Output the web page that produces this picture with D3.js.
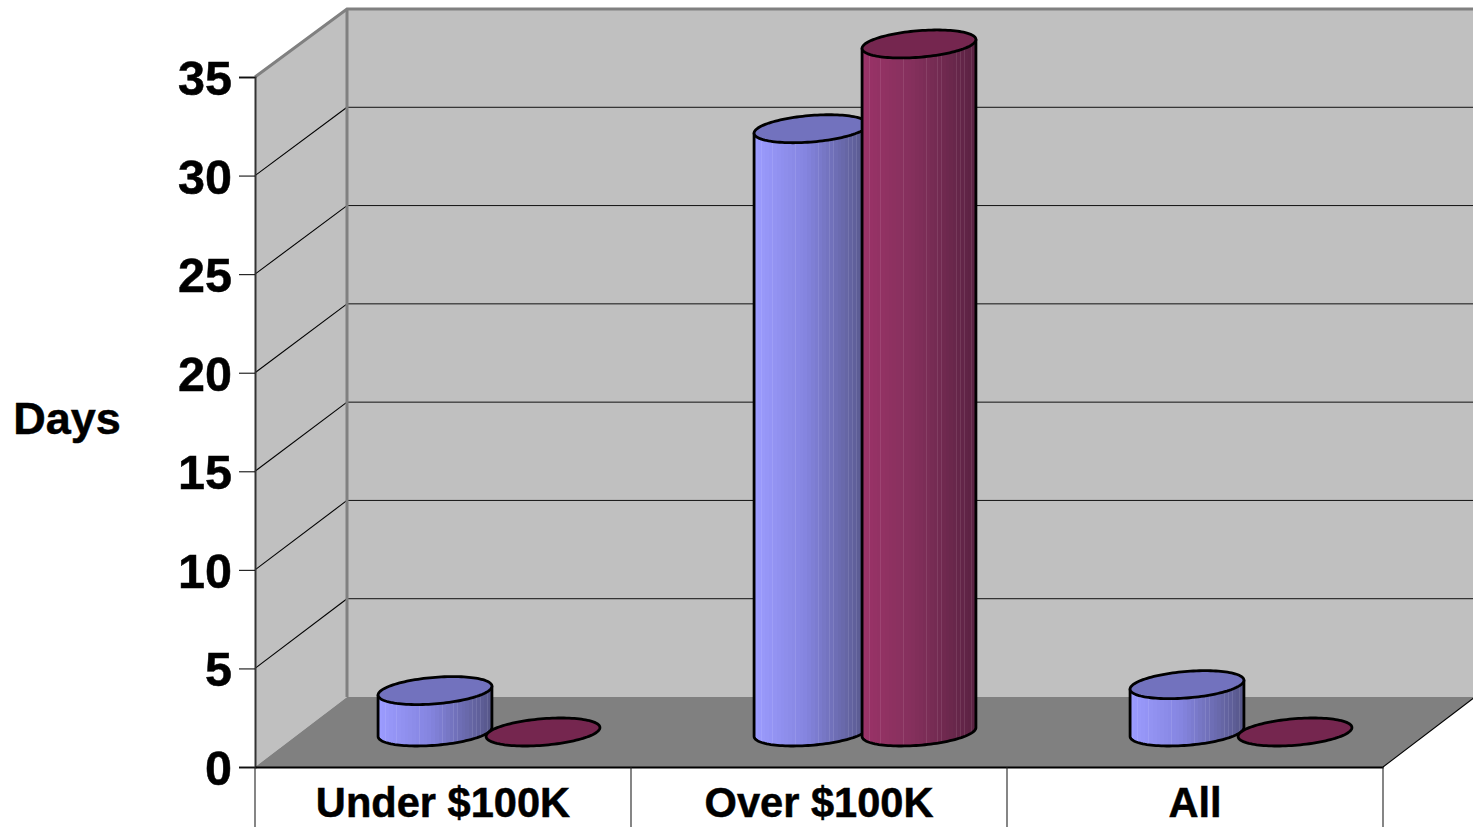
<!DOCTYPE html>
<html><head><meta charset="utf-8">
<script src="https://cdn.jsdelivr.net/npm/d3@7"></script>
<style>html,body{margin:0;padding:0;background:#fff;overflow:hidden}svg{display:block}
text{font-family:"Liberation Sans",Arial,sans-serif;font-weight:700;fill:#000;stroke:#000;stroke-width:.5px}</style>
</head><body><svg id="c" width="1473" height="827"></svg>
<script>
const categories = ["Under $100K", "Over $100K", "All"];
const seriesA = [2.1, 30.6, 2.4];
const seriesB = [0, 34.9, 0];
const yTicks = [0, 5, 10, 15, 20, 25, 30, 35];
const yTitle = "Days";

const svg = d3.select("#c");
const x = d3.scaleBand().domain(categories).range([255, 1383]).padding(0);
const y = d3.scaleLinear().domain([0, 35]).range([767, 77]);
const depthX = 92, depthY = 70;
const base = y(0);

// gradients: banded, with faint seams
const defs = svg.append("defs");
function grad(id, c0, c1, c2, seam) {
  const g = defs.append("linearGradient").attr("id", id).attr("x1", 0).attr("x2", 1).attr("y1", 0).attr("y2", 0);
  const col = d3.scaleLinear().domain([0, .45, 1]).range([c0, c1, c2]);
  const n = 30;
  d3.range(n).forEach(i => {
    const a = i / n, b = (i + 1) / n, c = col((i + .5) / n);
    const hasSeam = (i % 3 === 1 || i > 18 && i % 2 === 0);
    const end = hasSeam ? b - .006 : b;
    g.append("stop").attr("offset", a).attr("stop-color", c);
    g.append("stop").attr("offset", end).attr("stop-color", c);
    if (hasSeam) {
      const s = d3.interpolateRgb(c, seam)(.09);
      g.append("stop").attr("offset", end).attr("stop-color", s);
      g.append("stop").attr("offset", b).attr("stop-color", s);
    }
  });
}
grad("gA", "#9c9cff", "#8585e0", "#565688", "#ffffff");
grad("gB", "#9b3368", "#84305c", "#5a2242", "#ffffff");

// walls and floor
const poly = pts => "M" + pts.map(p => p.join(",")).join("L") + "Z";
const plotLeft = 255, plotRight = 1383;
const plotTop = y(35);
const backY = v => 697 - (v / 35) * 688;
svg.append("path").attr("d", poly([[plotLeft + depthX, backY(35)], [1480, backY(35)], [1480, backY(0)], [plotLeft + depthX, backY(0)]])).attr("fill", "#c0c0c0");
svg.append("path").attr("d", poly([[plotLeft, plotTop], [plotLeft + depthX, backY(35)], [plotLeft + depthX, backY(0)], [plotLeft, base]])).attr("fill", "#c0c0c0");
svg.append("path").attr("d", poly([[plotLeft, base], [plotLeft + depthX, backY(0)], [plotRight + depthX, backY(0)], [plotRight, base]])).attr("fill", "#808080");

// gridlines (back wall + side wall)
yTicks.filter(v => v > 0 && v < 35).forEach(v => {
  svg.append("line").attr("x1", plotLeft).attr("y1", y(v)).attr("x2", plotLeft + depthX).attr("y2", backY(v)).attr("stroke", "#000").attr("stroke-width", 1.1);
  svg.append("line").attr("x1", plotLeft + depthX).attr("y1", backY(v)).attr("x2", 1473).attr("y2", backY(v)).attr("stroke", "#111").attr("stroke-width", 1);
});
// wall edges
svg.append("path").attr("d", `M${plotLeft},${plotTop}L${plotLeft + depthX},${backY(35)}L1473,${backY(35)}`).attr("fill", "none").attr("stroke", "#808080").attr("stroke-width", 3);
svg.append("line").attr("x1", plotLeft + depthX).attr("y1", backY(35)).attr("x2", plotLeft + depthX).attr("y2", backY(0)).attr("stroke", "#808080").attr("stroke-width", 3);
svg.append("line").attr("x1", plotRight).attr("y1", base).attr("x2", plotRight + depthX).attr("y2", backY(0)).attr("stroke", "#000").attr("stroke-width", 1.1);

// axes
const yAxis = d3.axisLeft(y).tickValues(yTicks).tickSize(16).tickPadding(7);
const gy = svg.append("g").attr("transform", `translate(${plotLeft},0)`).call(yAxis);
gy.select(".domain").attr("stroke", "#333").attr("stroke-width", 2);
gy.selectAll("line").attr("stroke", "#111").attr("stroke-width", 1.1);
gy.selectAll("text").style("font-size", "48.5px").attr("fill", "#000").attr("dy", "0.36em").style("font-family", '"Liberation Sans"').style("font-weight", 700);

const xAxis = d3.axisBottom(x).tickSize(0).tickPadding(18);
const gx = svg.append("g").attr("transform", `translate(0,${base})`).call(xAxis);
gx.select(".domain").attr("stroke", "#000").attr("stroke-width", 2.2);
gx.selectAll("text").style("font-size", "41.6px").attr("fill", "#000").attr("dy", "0.76em").style("font-family", '"Liberation Sans"').style("font-weight", 700);
[...categories.map(c => x(c)), plotRight].forEach(px => {
  svg.append("line").attr("x1", px).attr("y1", base).attr("x2", px).attr("y2", 827).attr("stroke", "#222").attr("stroke-width", 1.1);
});

svg.append("text").attr("x", 67).attr("y", 434).attr("text-anchor", "middle").style("font-size", "45px").text(yTitle);

// cylinders
const ux = 54, vx = 18, vy = -14; // ellipse conjugate half-axes
const t0 = Math.atan2(vx, ux);
const lineGen = d3.line();
const pt = (cx, cy, t) => [cx + ux * Math.cos(t) + vx * Math.sin(t), cy + vy * Math.sin(t)];
function cylinder(cx, value, fillId, topFill) {
  const cyB = base - depthY / 2;
  const h = base - y(value);
  const cyT = cyB - h;
  const g = svg.append("g");
  if (value > 0) {
    const arc = d3.range(0, 61).map(i => pt(cx, cyB, t0 + Math.PI + Math.PI * i / 60));
    const pts = [pt(cx, cyT, t0 + Math.PI), ...arc, pt(cx, cyT, t0)];
    g.append("path").attr("d", lineGen(pts) + "Z").attr("fill", `url(#${fillId})`).attr("stroke", "#000").attr("stroke-width", 2.8).attr("stroke-linejoin", "round");
  }
  const ring = d3.range(0, 120).map(i => pt(cx, cyT, 2 * Math.PI * i / 120));
  g.append("path").attr("d", lineGen(ring) + "Z").attr("fill", topFill).attr("stroke", "#000").attr("stroke-width", 2.8);
}
categories.forEach((c, i) => {
  const mid = x(c) + x.bandwidth() / 2 + depthX / 2;
  cylinder(mid - ux, seriesA[i], "gA", "#7272be");
  cylinder(mid + ux, seriesB[i], "gB", "#75264f");
});
</script></body></html>
